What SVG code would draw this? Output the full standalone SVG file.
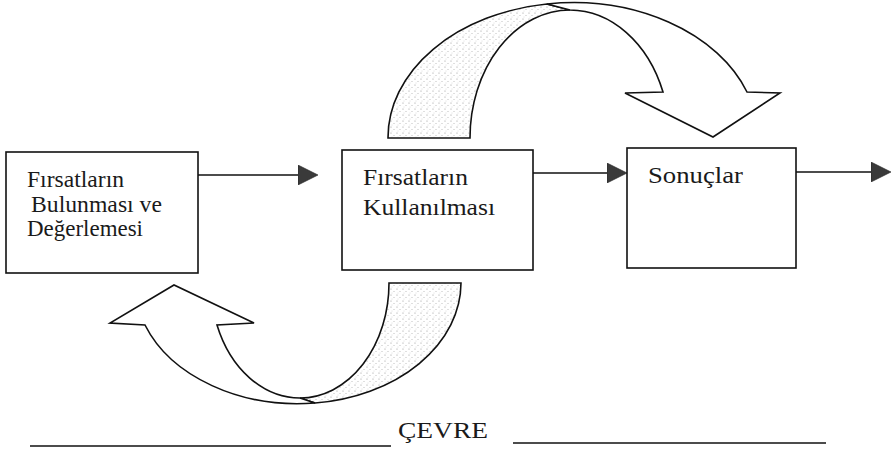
<svg xmlns="http://www.w3.org/2000/svg" width="895" height="451" viewBox="0 0 895 451">
<style>
.box{fill:#fff;stroke:#111;stroke-width:1.6}
.lbl{font-family:"Liberation Serif","Times New Roman",serif;font-size:23px;fill:#1a1a1a}
.conn{stroke:#111;stroke-width:1.6;fill:none}
.rib{stroke:#111;stroke-width:1.6;stroke-linejoin:miter}
.back{fill:url(#dots)}
.front{fill:#fff}
.rule{stroke:#111;stroke-width:1.6}
</style>
<defs>
<pattern id="dots" width="6" height="6" patternUnits="userSpaceOnUse">
<rect width="6" height="6" fill="#fff"/>
<circle cx="1" cy="1" r="0.6" fill="#999"/>
<circle cx="4" cy="3.5" r="0.5" fill="#aaa"/>
<circle cx="2" cy="5" r="0.4" fill="#bbb"/>
</pattern>
<marker id="ah" markerUnits="userSpaceOnUse" markerWidth="20" markerHeight="20" refX="0" refY="10" orient="auto" viewBox="0 0 20 20">
<path d="M0,0 L20,10 L0,20 Z" fill="#3a3a3a" stroke="#222" stroke-width="0.6"/>
</marker>
</defs>
<rect width="895" height="451" fill="#fff"/>

<g id="connectors">
<line class="conn" x1="198" y1="175" x2="298" y2="175" marker-end="url(#ah)"/>
<line class="conn" x1="533" y1="173" x2="607" y2="173" marker-end="url(#ah)"/>
<line class="conn" x1="796" y1="172" x2="871" y2="172" marker-end="url(#ah)"/>
<g id="top-ribbon">
<path class="rib back" d="M388,138 A185,135 0 0 1 547,4 L570,10 A100,128 0 0 0 470,138 Z"/>
<path class="rib front" d="M547,4 A185,135 0 0 1 747,92 L780,93 L713,137 L625,93 L663,92 A100,128 0 0 0 570,10 Z"/>
</g>
<g id="bottom-ribbon">
<path class="rib back" d="M389,283 L461,283 A163,121 0 0 1 315,403 L300,398 A89,115 0 0 0 389,283 Z"/>
<path class="rib front" d="M315,403 A163,121 0 0 1 145,325 L110,323 L174,285 L254,323 L217,325 A89,115 0 0 0 300,398 Z"/>
</g>
</g>

<g id="box1">
<rect class="box" x="6" y="152" width="192" height="121"/>
<text class="lbl" x="27" y="187" textLength="97" lengthAdjust="spacingAndGlyphs">Fırsatların</text>
<text class="lbl" x="31" y="212" textLength="131" lengthAdjust="spacingAndGlyphs">Bulunması ve</text>
<text class="lbl" x="27" y="236" textLength="116" lengthAdjust="spacingAndGlyphs">Değerlemesi</text>
</g>

<g id="box2">
<rect class="box" x="342" y="150" width="191" height="120"/>
<text class="lbl" x="363" y="185" textLength="105" lengthAdjust="spacingAndGlyphs">Fırsatların</text>
<text class="lbl" x="363" y="215" textLength="132" lengthAdjust="spacingAndGlyphs">Kullanılması</text>
</g>

<g id="box3">
<rect class="box" x="627" y="148" width="169" height="120"/>
<text class="lbl" x="648" y="183" textLength="95" lengthAdjust="spacingAndGlyphs">Sonuçlar</text>
</g>

<g id="environment">
<line class="rule" x1="30" y1="446" x2="391" y2="446"/>
<text class="lbl" x="398" y="438" textLength="90" lengthAdjust="spacingAndGlyphs">ÇEVRE</text>
<line class="rule" x1="513" y1="443" x2="826" y2="443"/>
</g>
</svg>
